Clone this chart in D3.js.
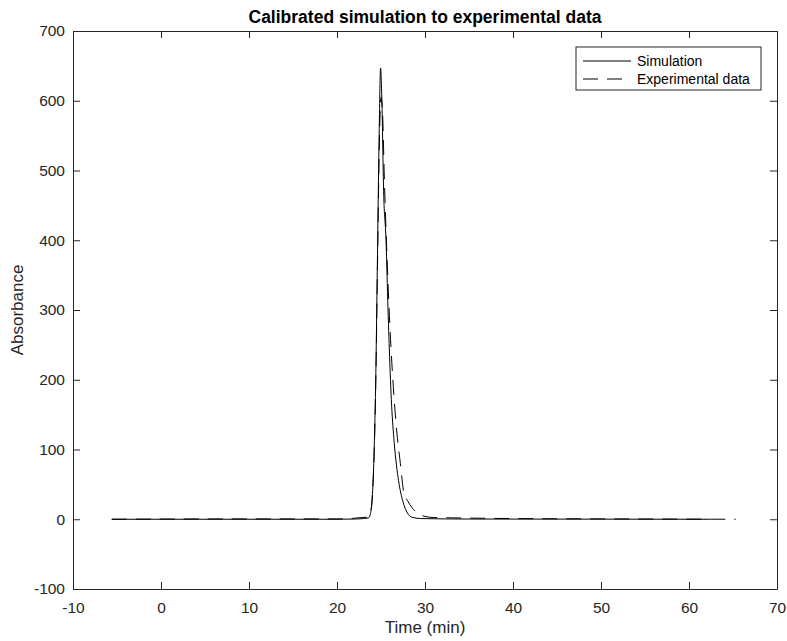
<!DOCTYPE html>
<html>
<head>
<meta charset="utf-8">
<script src="https://cdn.jsdelivr.net/npm/d3@7"></script>
<style>
  body { margin: 0; background: #fff; }
  svg text { font-family: "Liberation Sans", Arial, sans-serif; fill: #262626; }
</style>
</head>
<body>
<svg id="chart" width="787" height="641"></svg>
<script>
// chart data
var simTime = [-5.6, 20, 22, 23, 23.6, 23.8, 24.0, 24.2, 24.4, 24.6, 24.8, 24.95, 25.1, 25.3, 25.57, 25.8, 26.2, 26.5, 27.0, 27.5, 28.0, 28.5, 29.5, 35, 62.4];
var simAbs  = [0, 0, 0.3, 1, 2, 8, 30, 90, 200, 380, 560, 647, 600, 470, 400, 300, 165, 110, 55, 25, 9, 3, 1, 0.3, 0];

var expTime = [-5.6, 10, 20, 22, 22.8, 23.5, 23.8, 24.0, 24.2, 24.4, 24.6, 24.8, 25.0, 25.15, 25.4, 25.7, 26.0, 26.4, 26.8, 27.2, 27.6, 28.0, 28.5, 29.0, 29.5, 30.0, 31, 33, 36, 40, 50, 65.3];
var expAbs  = [0, 0.5, 0.5, 1.5, 2.5, 3, 10, 30, 85, 190, 360, 530, 605, 590, 480, 370, 280, 190, 125, 80, 38, 27, 17, 10, 6, 4, 2.5, 2, 1.5, 1, 0.5, 0];

var xTicks = [-10, 0, 10, 20, 30, 40, 50, 60, 70];
var yTicks = [-100, 0, 100, 200, 300, 400, 500, 600, 700];
var seriesNames = ["Simulation", "Experimental data"];

var titleText = "Calibrated simulation to experimental data";
var xLabel = "Time (min)";
var yLabel = "Absorbance";

// layout
var mLeft = 73, mRight = 777, mTop = 31, mBottom = 589;
var tickLen = 7;

var svg = d3.select("#chart");

var x = d3.scaleLinear().domain([-10, 70]).range([mLeft, mRight]);
var y = d3.scaleLinear().domain([-100, 700]).range([mBottom, mTop]);

var simData = simTime.map(function (t, i) { return {t: t, v: simAbs[i]}; });
var expData = expTime.map(function (t, i) { return {t: t, v: expAbs[i]}; });

var line = d3.line()
    .x(function (d) { return x(d.t); })
    .y(function (d) { return y(d.v); })
    .curve(d3.curveMonotoneX);

// clip to the axes box
svg.append("clipPath").attr("id", "plotclip")
  .append("rect")
    .attr("x", mLeft).attr("y", mTop)
    .attr("width", mRight - mLeft).attr("height", mBottom - mTop);

var plot = svg.append("g").attr("clip-path", "url(#plotclip)");

plot.append("path")
    .datum(expData)
    .attr("d", line)
    .attr("fill", "none")
    .attr("stroke", "#000")
    .attr("stroke-width", 1)
    .attr("stroke-dasharray", "15,9");

plot.append("path")
    .datum(simData)
    .attr("d", line)
    .attr("fill", "none")
    .attr("stroke", "#000")
    .attr("stroke-width", 1);

// axes (MATLAB style box with inward ticks)
var axisColor = "#262626";
var fmt = function (d) { return String(d); }; // plain hyphen minus

var xAxis = svg.append("g")
    .attr("transform", "translate(0," + mBottom + ")")
    .call(d3.axisBottom(x).tickValues(xTicks).tickSize(-tickLen).tickSizeOuter(0).tickPadding(13).tickFormat(fmt));

var xAxisTop = svg.append("g")
    .attr("transform", "translate(0," + mTop + ")")
    .call(d3.axisTop(x).tickValues(xTicks).tickSize(-tickLen).tickSizeOuter(0).tickFormat(""));

var yAxis = svg.append("g")
    .attr("transform", "translate(" + mLeft + ",0)")
    .call(d3.axisLeft(y).tickValues(yTicks).tickSize(-tickLen).tickSizeOuter(0).tickPadding(8).tickFormat(fmt));

var yAxisRight = svg.append("g")
    .attr("transform", "translate(" + mRight + ",0)")
    .call(d3.axisRight(y).tickValues(yTicks).tickSize(-tickLen).tickSizeOuter(0).tickFormat(""));

[xAxis, xAxisTop, yAxis, yAxisRight].forEach(function (g) {
    g.select(".domain").attr("stroke", axisColor).attr("stroke-width", 1);
    g.selectAll(".tick line").attr("stroke", axisColor);
    g.selectAll("text")
        .style("font-family", "'Liberation Sans', Arial, sans-serif")
        .style("font-size", "15.5px")
        .attr("fill", axisColor);
});

// titles
svg.append("text")
    .attr("x", (mLeft + mRight) / 2)
    .attr("y", 23)
    .attr("text-anchor", "middle")
    .style("font-size", "17.5px")
    .style("font-weight", "bold")
    .style("fill", "#000")
    .text(titleText);

svg.append("text")
    .attr("x", (mLeft + mRight) / 2)
    .attr("y", 633)
    .attr("text-anchor", "middle")
    .style("font-size", "17px")
    .text(xLabel);

svg.append("text")
    .attr("transform", "translate(23," + ((mTop + mBottom) / 2) + ") rotate(-90)")
    .attr("text-anchor", "middle")
    .style("font-size", "17px")
    .text(yLabel);

// legend
var legend = svg.append("g");
legend.append("rect")
    .attr("x", 576).attr("y", 47)
    .attr("width", 185).attr("height", 43)
    .attr("fill", "#fff")
    .attr("stroke", axisColor)
    .attr("stroke-width", 1);

seriesNames.forEach(function (name, i) {
    var ly = 61 + i * 18;
    legend.append("line")
        .attr("x1", 583).attr("x2", 631)
        .attr("y1", ly).attr("y2", ly)
        .attr("stroke", "#000")
        .attr("stroke-width", 1)
        .attr("stroke-dasharray", i === 1 ? "15,9" : null);
    legend.append("text")
        .attr("x", 637).attr("y", ly + 5)
        .style("font-size", "14px")
        .style("fill", "#000")
        .text(name);
});
</script>
</body>
</html>
